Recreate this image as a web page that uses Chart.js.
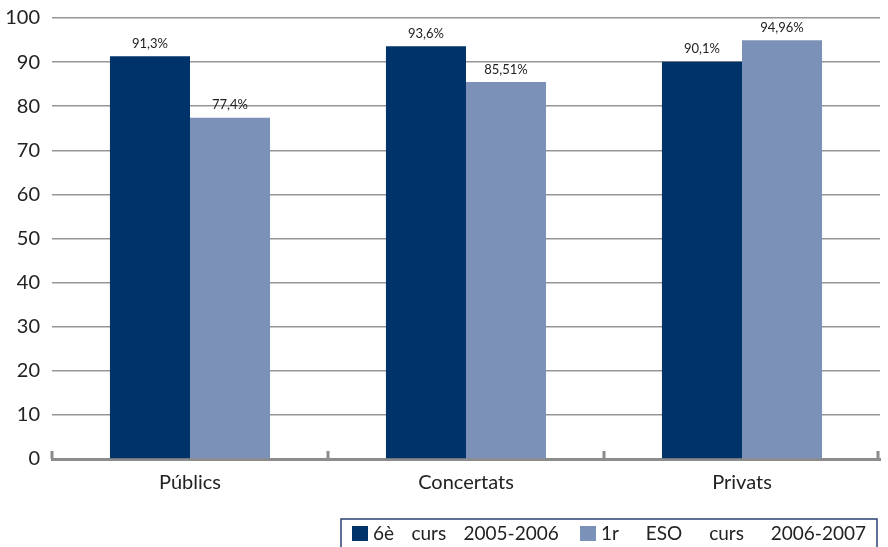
<!DOCTYPE html>
<html lang="ca">
<head>
  <meta charset="UTF-8">
  <title>Percentatge per titularitat</title>
  <script src="https://cdn.jsdelivr.net/npm/chart.js"></script>
  <style>
    html, body { margin: 0; padding: 0; background: #ffffff; }
    #wrap { width: 888px; height: 547px; }
  </style>
</head>
<body>
  <div id="wrap">
    <canvas id="chart" width="888" height="547"></canvas>
  </div>
  <script>
    // data
    const categories = ['Públics', 'Concertats', 'Privats'];
    const seriesNames = ['6è curs 2005-2006', '1r ESO curs 2006-2007'];
    const sisèCurs = [91.3, 93.6, 90.1];
    const primerESO = [77.4, 85.51, 94.96];
    const yTicks = [0, 10, 20, 30, 40, 50, 60, 70, 80, 90, 100];

    const DARK = '#00336a';
    const LIGHT = '#7b91b7';
    const GRID = '#969696';
    const FONT = 'Lato, "DejaVu Sans", sans-serif';

    // value labels above each bar, e.g. 91,3%
    const valueLabels = {
      id: 'valueLabels',
      afterDatasetsDraw(chart) {
        const ctx = chart.ctx;
        ctx.save();
        ctx.font = '13px ' + FONT;
        ctx.fillStyle = '#222';
        ctx.textAlign = 'center';
        ctx.textBaseline = 'bottom';
        chart.data.datasets.forEach((ds, i) => {
          chart.getDatasetMeta(i).data.forEach((bar, j) => {
            const txt = String(ds.data[j]).replace('.', ',') + '%';
            ctx.fillText(txt, bar.x, bar.y - 6);
          });
        });
        ctx.restore();
      }
    };

    // short upward ticks between categories on the base line
    const baseTicks = {
      id: 'baseTicks',
      afterDraw(chart) {
        const ctx = chart.ctx;
        const area = chart.chartArea;
        const step = (area.right - area.left) / categories.length;
        ctx.save();
        ctx.strokeStyle = '#8c8c8c';
        ctx.lineWidth = 3;
        for (let i = 0; i <= categories.length; i++) {
          const x = Math.round(area.left + i * step) - (i === categories.length ? 2 : 0);
          ctx.beginPath();
          ctx.moveTo(x, area.bottom);
          ctx.lineTo(x, area.bottom - 8);
          ctx.stroke();
        }
        ctx.restore();
      }
    };

    // boxed legend at bottom right
    const legendSpacing = ['12.5px', '22px'];
    const boxLegend = {
      id: 'boxLegend',
      afterDraw(chart) {
        const ctx = chart.ctx;
        ctx.save();
        ctx.font = '19px ' + FONT;
        ctx.textBaseline = 'middle';
        const top = 519, midY = 534;
        const starts = [352, 580];
        chart.data.datasets.forEach((ds, i) => {
          const x = starts[i];
          ctx.fillStyle = ds.backgroundColor;
          ctx.fillRect(x, midY - 8, 16, 15);
          ctx.wordSpacing = legendSpacing[i];
          ctx.fillStyle = '#222';
          ctx.fillText(ds.label, x + 21, midY);
        });
        ctx.strokeStyle = '#2a4270';
        ctx.lineWidth = 1.5;
        ctx.strokeRect(341, top, 877 - 341, 40);
        ctx.restore();
      }
    };

    new Chart(document.getElementById('chart'), {
      type: 'bar',
      data: {
        labels: categories,
        datasets: [
          { label: seriesNames[0], data: sisèCurs, backgroundColor: DARK },
          { label: seriesNames[1], data: primerESO, backgroundColor: LIGHT }
        ]
      },
      options: {
        responsive: false,
        animation: false,
        layout: { padding: { top: 18, right: 8, left: 6, bottom: 40 } },
        datasets: {
          bar: { categoryPercentage: 0.58, barPercentage: 1.0 }
        },
        scales: {
          x: {
            grid: { display: false, drawTicks: false },
            border: { display: true, color: '#8c8c8c', width: 3 },
            ticks: { color: '#222', font: { family: FONT, size: 20 }, padding: 12 }
          },
          y: {
            min: 0,
            max: 100,
            afterBuildTicks(axis) { axis.ticks = yTicks.map(v => ({ value: v })); },
            afterFit(axis) { axis.width = 46; axis.paddingTop = 0; axis.paddingBottom = 0; },
            grid: { color: GRID, lineWidth: 1.5, drawTicks: false },
            border: { display: false },
            ticks: { color: '#222', font: { family: FONT, size: 20 }, padding: 12 }
          }
        },
        plugins: {
          legend: { display: false },
          tooltip: { enabled: false }
        }
      },
      plugins: [valueLabels, baseTicks, boxLegend]
    });
  </script>
</body>
</html>
